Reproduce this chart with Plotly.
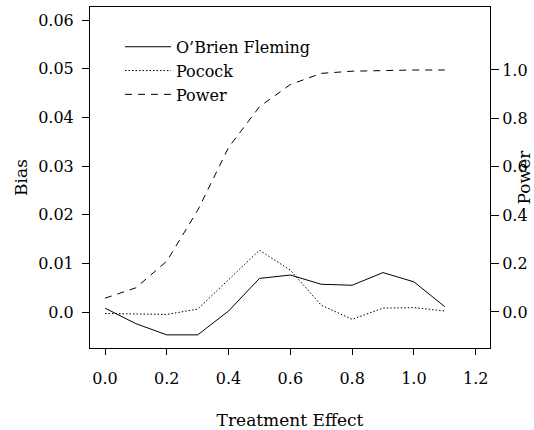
import plotly.graph_objects as go

effect = [0.0, 0.1, 0.2, 0.3, 0.4, 0.5, 0.6, 0.7, 0.8, 0.9, 1.0, 1.1]
bias_obf = [0.0008, -0.0024, -0.0047, -0.0047, 0.0002, 0.0069, 0.0076, 0.0057, 0.0055, 0.0081, 0.0062, 0.0011]
bias_pocock = [-0.0003, -0.0004, -0.0005, 0.0006, 0.0066, 0.0127, 0.0086, 0.0014, -0.0015, 0.0008, 0.0009, 0.0002]
power = [0.057, 0.10, 0.21, 0.42, 0.68, 0.848, 0.94, 0.986, 0.995, 0.999, 1.0, 1.0]

x_ticks = [0.0, 0.2, 0.4, 0.6, 0.8, 1.0, 1.2]
x_labels = ["0.0", "0.2", "0.4", "0.6", "0.8", "1.0", "1.2"]
bias_ticks = [0.0, 0.01, 0.02, 0.03, 0.04, 0.05, 0.06]
bias_labels = ["0.0", "0.01", "0.02", "0.03", "0.04", "0.05", "0.06"]
power_ticks = [0.0, 0.2, 0.4, 0.6, 0.8, 1.0]
power_labels = ["0.0", "0.2", "0.4", "0.6", "0.8", "1.0"]

FONT = "DejaVu Serif"

fig = go.Figure()
fig.add_trace(go.Scatter(x=effect, y=bias_obf, mode="lines", name="O\u2019Brien Fleming",
                         line=dict(color="black", width=1)))
fig.add_trace(go.Scatter(x=effect, y=bias_pocock, mode="lines", name="Pocock",
                         line=dict(color="black", width=1, dash="1.5px,2px")))
fig.add_trace(go.Scatter(x=effect, y=power, mode="lines", name="Power", yaxis="y2",
                         line=dict(color="black", width=1, dash="7px,6px")))

fig.update_layout(
    width=534, height=430,
    margin=dict(l=90, r=44, t=7, b=82, autoexpand=False),
    paper_bgcolor="white", plot_bgcolor="white",
    font=dict(family=FONT, size=16, color="black"),
    showlegend=True,
    legend=dict(x=0.075, y=0.933, xanchor="left", yanchor="top",
                bgcolor="rgba(0,0,0,0)", font=dict(family=FONT, size=16),
                itemwidth=46, tracegroupgap=0),
    xaxis=dict(range=[-0.0486, 1.2464], tickvals=x_ticks, ticktext=x_labels,
               automargin=False,
               showgrid=False, zeroline=False, showline=True, mirror=True,
               linecolor="black", linewidth=1, ticks="outside", ticklen=6,
               tickcolor="black", ticklabelstandoff=10,
               title=dict(text="Treatment Effect", font=dict(size=17), standoff=30)),
    yaxis=dict(range=[-0.0074, 0.0627], tickvals=bias_ticks, ticktext=bias_labels,
               automargin=False,
               showgrid=False, zeroline=False, showline=True, mirror=True,
               linecolor="black", linewidth=1, ticks="outside", ticklen=7,
               tickcolor="black", ticklabelstandoff=5,
               title=dict(text="Bias", font=dict(size=17), standoff=6)),
    yaxis2=dict(range=[-0.1488, 1.2603], tickvals=power_ticks, ticktext=power_labels,
                automargin=False,
                overlaying="y", side="right", showgrid=False, zeroline=False,
                showline=False, ticks="outside", ticklen=8, tickcolor="black",
                title=dict(text="Power", font=dict(size=17), standoff=0)),
)

fig.write_html("out.html")
